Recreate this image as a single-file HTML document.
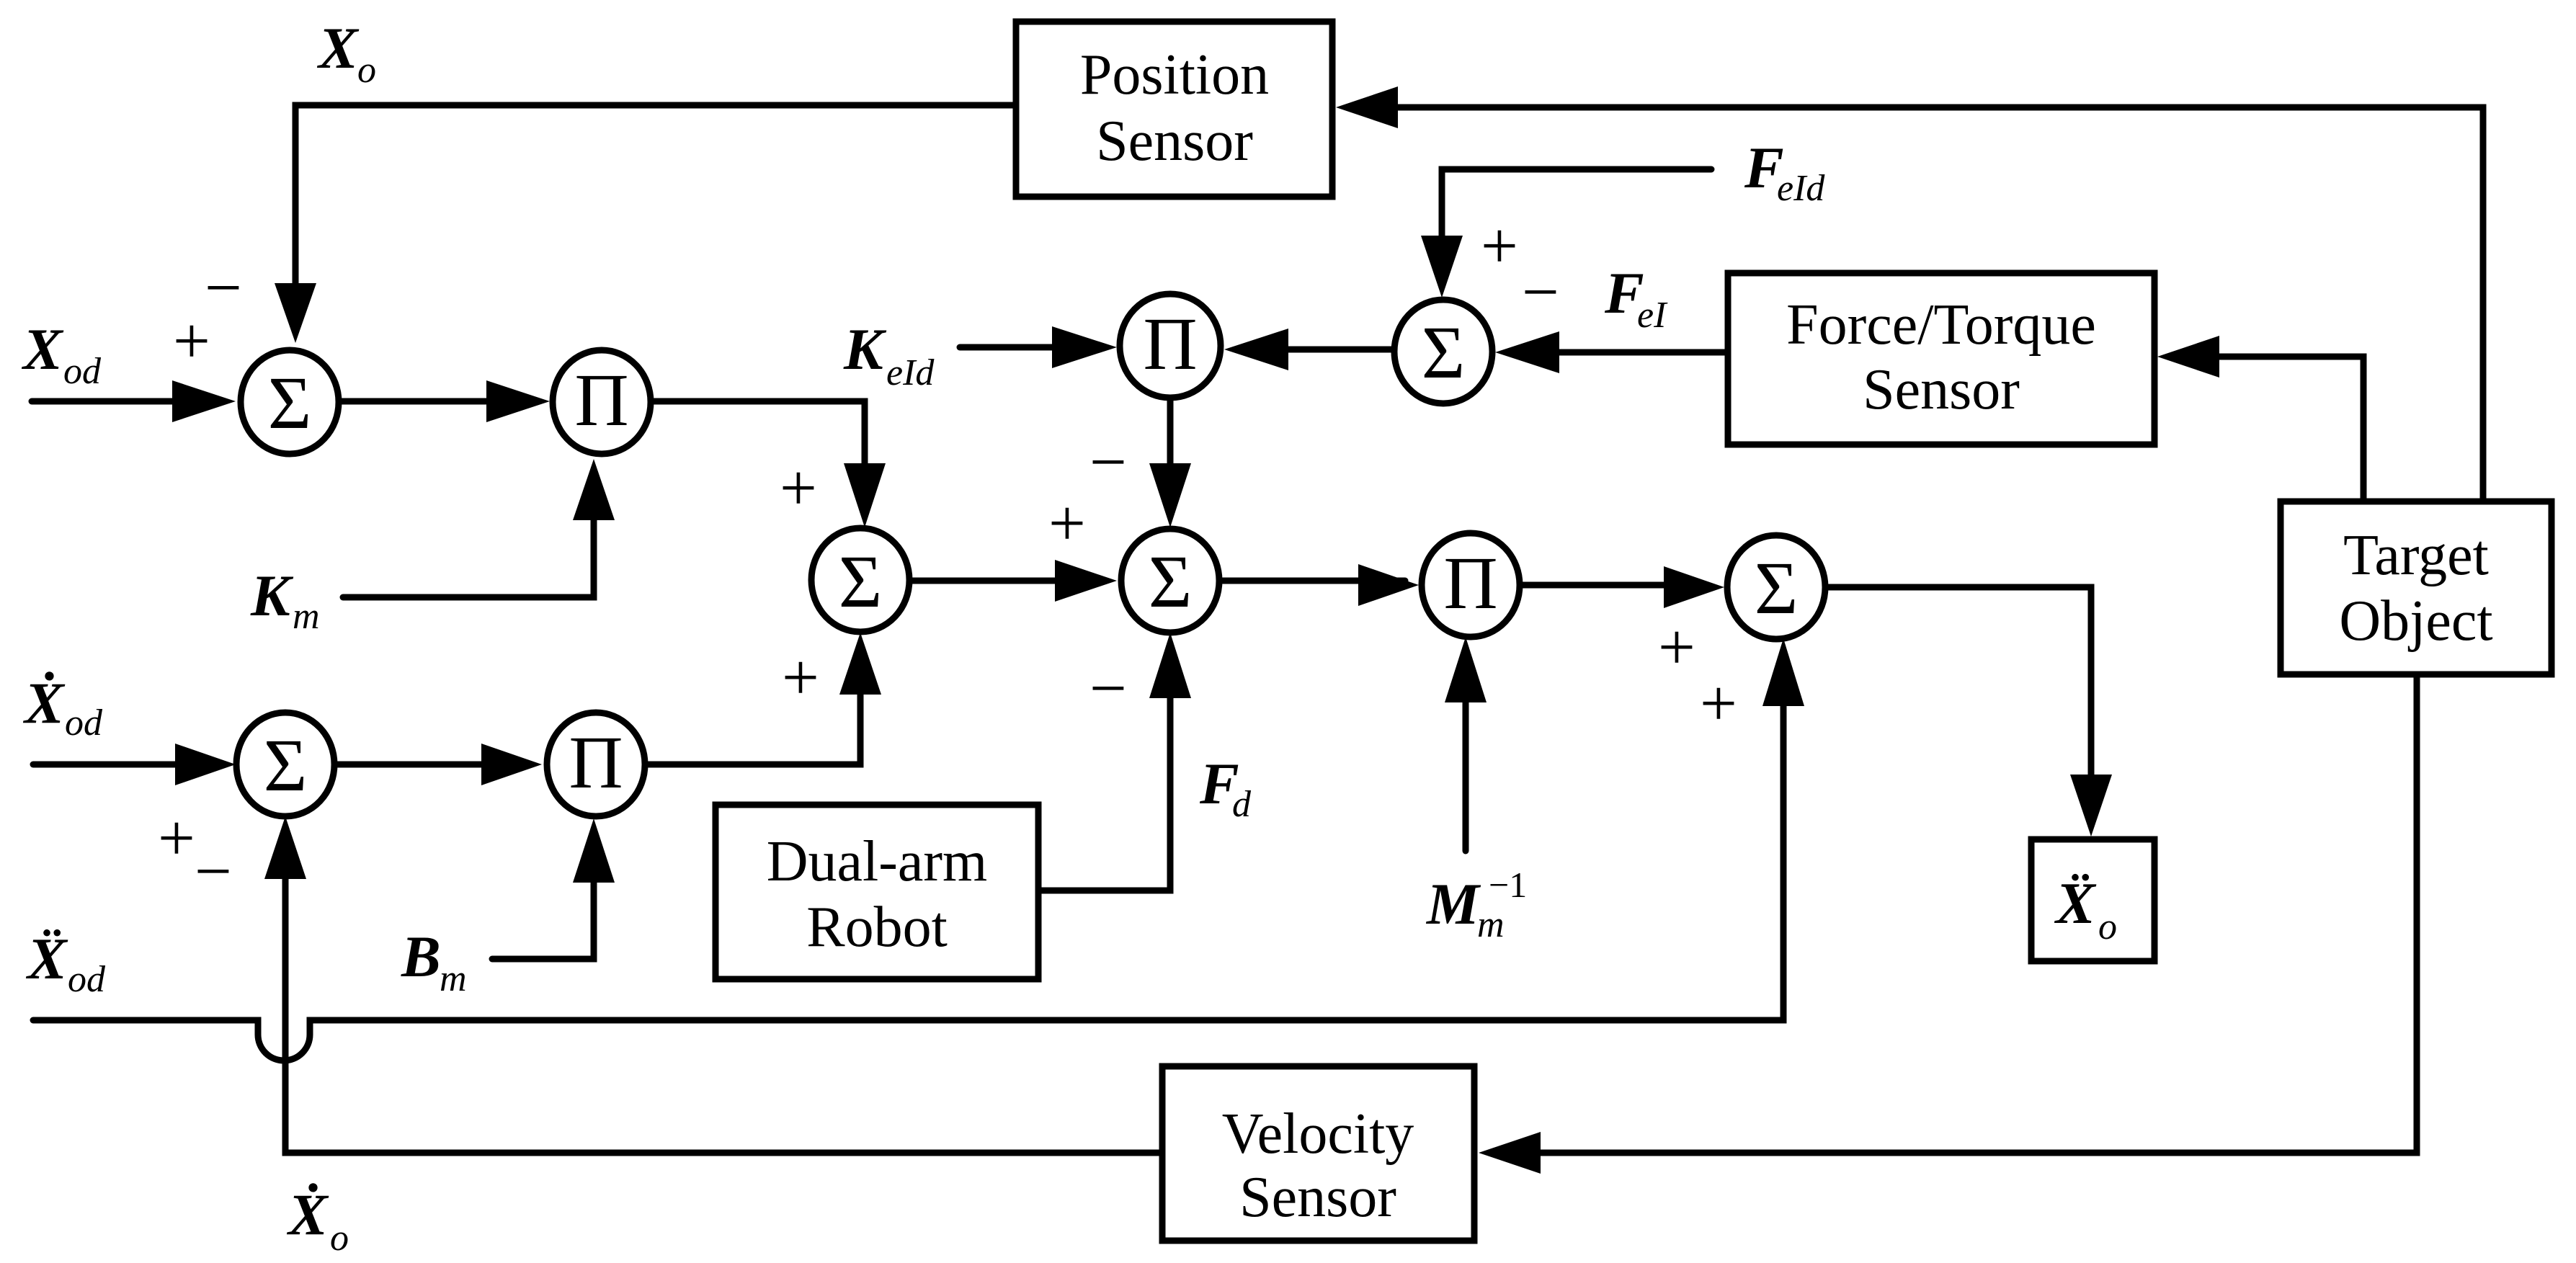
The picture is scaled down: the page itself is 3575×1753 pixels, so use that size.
<!DOCTYPE html>
<html><head><meta charset="utf-8"><style>
html,body{margin:0;padding:0;background:#fff;}
svg{display:block;font-family:"Liberation Serif","DejaVu Serif",serif;}
text{font-family:"Liberation Serif","DejaVu Serif",serif;fill:#000;}
.b{font-size:80px;}
.v{font-weight:bold;font-style:italic;font-size:82px;}
.s{font-style:italic;font-size:52px;}
.op{font-size:104px;}
.pm{font-size:92px;}
</style></head><body>
<svg width="3575" height="1753" viewBox="0 0 3575 1753" xmlns="http://www.w3.org/2000/svg" font-family="Liberation Serif, serif">
<g fill="none" stroke="#000" stroke-width="9" stroke-linecap="round" stroke-linejoin="miter">
<rect x="1410" y="30" width="439" height="243"/>
<rect x="2398" y="379" width="592" height="238"/>
<rect x="3165" y="696" width="376" height="240"/>
<rect x="993" y="1117" width="448" height="242"/>
<rect x="2819" y="1165" width="171" height="169"/>
<rect x="1613" y="1480" width="433" height="242"/>
<ellipse cx="402" cy="558" rx="68" ry="72"/>
<ellipse cx="835" cy="558" rx="68" ry="72"/>
<ellipse cx="1194" cy="805" rx="68" ry="72"/>
<ellipse cx="1624" cy="480" rx="70" ry="72"/>
<ellipse cx="1624" cy="806" rx="68" ry="72"/>
<ellipse cx="2003" cy="488" rx="68" ry="72"/>
<ellipse cx="2041" cy="812" rx="68" ry="72"/>
<ellipse cx="2465" cy="815" rx="68" ry="72"/>
<ellipse cx="396" cy="1061" rx="68" ry="72"/>
<ellipse cx="827" cy="1061" rx="68" ry="72"/>
<polyline points="1410,146 410,146 410,400"/>
<polyline points="44,557 250,557"/>
<polyline points="470,557 680,557"/>
<polyline points="903,557 1200,557 1200,650"/>
<polyline points="476,829 824,829 824,720"/>
<polyline points="1332,482 1460,482"/>
<polyline points="1624,552 1624,650"/>
<polyline points="1262,806 1470,806"/>
<polyline points="1692,806 1950,806"/>
<polyline points="2109,812 2310,812"/>
<polyline points="2533,815 2902,815 2902,1075"/>
<polyline points="3446,696 3446,149 1940,149"/>
<polyline points="2375,235 2001,235 2001,330"/>
<polyline points="2398,489 2164,489"/>
<polyline points="1935,485 1785,485"/>
<polyline points="3280,696 3280,495 3080,495"/>
<polyline points="2034,1181 2034,975"/>
<polyline points="3354,936 3354,1600 2138,1600"/>
<polyline points="46,1061 250,1061"/>
<polyline points="464,1061 668,1061"/>
<polyline points="895,1061 1194,1061 1194,964"/>
<polyline points="1441,1236 1624,1236 1624,969"/>
<polyline points="683,1331 824,1331 824,1225"/>
<polyline points="1613,1600 396,1600 396,1220"/>
<path d="M46,1416 L358,1416 L358,1436 A36,36 0 0 0 430,1436 L430,1416 L2475,1416 L2475,980"/>
</g>
<g fill="#000">
<polygon points="410,476 381,393 439,393"/>
<polygon points="327,557 239,528 239,586"/>
<polygon points="763,557 675,528 675,586"/>
<polygon points="1200,732 1171,643 1229,643"/>
<polygon points="824,637 795,722 853,722"/>
<polygon points="1550,482 1460,453 1460,511"/>
<polygon points="1624,732 1595,643 1653,643"/>
<polygon points="1550,806 1464,777 1464,835"/>
<polygon points="1969,812 1885,783 1885,841"/>
<polygon points="2393,815 2309,786 2309,844"/>
<polygon points="1854,149 1940,120 1940,178"/>
<polygon points="2001,413 1972,327 2030,327"/>
<polygon points="2075,489 2164,460 2164,518"/>
<polygon points="1699,485 1788,456 1788,514"/>
<polygon points="2994,495 3080,466 3080,524"/>
<polygon points="2034,884 2005,975 2063,975"/>
<polygon points="2475,886 2446,980 2504,980"/>
<polygon points="2902,1161 2873,1075 2931,1075"/>
<polygon points="2052,1600 2138,1571 2138,1629"/>
<polygon points="327,1061 243,1032 243,1090"/>
<polygon points="752,1061 668,1032 668,1090"/>
<polygon points="1194,878 1165,964 1223,964"/>
<polygon points="1624,878 1595,969 1653,969"/>
<polygon points="824,1136 795,1225 853,1225"/>
<polygon points="396,1133 367,1220 425,1220"/>
</g>
<g class="op" text-anchor="middle">
<text x="402" y="594">Σ</text>
<text x="835" y="590">Π</text>
<text x="1194" y="842">Σ</text>
<text x="1624" y="512">Π</text>
<text x="1624" y="842">Σ</text>
<text x="2003" y="524">Σ</text>
<text x="2041" y="844">Π</text>
<text x="2465" y="851">Σ</text>
<text x="396" y="1097">Σ</text>
<text x="827" y="1093">Π</text>
</g>
<g class="b" text-anchor="middle">
<text x="1630" y="130">Position</text>
<text x="1630" y="222">Sensor</text>
<text x="2694" y="477">Force/Torque</text>
<text x="2694" y="567">Sensor</text>
<text x="3353" y="797">Target</text>
<text x="3353" y="888">Object</text>
<text x="1217" y="1222">Dual-arm</text>
<text x="1217" y="1313">Robot</text>
<text x="1829" y="1600">Velocity</text>
<text x="1829" y="1688">Sensor</text>
</g>
<g class="pm" text-anchor="middle">
<text x="310" y="430">−</text>
<text x="266" y="504">+</text>
<text x="1108" y="708">+</text>
<text x="1538" y="672">−</text>
<text x="1481" y="757">+</text>
<text x="2081" y="372">+</text>
<text x="2138" y="436">−</text>
<text x="2327" y="929">+</text>
<text x="2385" y="1007">+</text>
<text x="1111" y="971">+</text>
<text x="1538" y="986">−</text>
<text x="245" y="1194">+</text>
<text x="296" y="1240">−</text>
</g>
<text x="442" y="94" class="v">X</text><text x="496" y="114" class="s">o</text>
<text x="32" y="512" class="v">X</text><text x="88" y="532" class="s">od</text>
<text x="1171" y="512" class="v">K</text><text x="1230" y="534" class="s">eId</text>
<text x="348" y="854" class="v">K</text><text x="406" y="872" class="s">m</text>
<text x="2421" y="260" class="v">F</text><text x="2466" y="278" class="s">eId</text>
<text x="2227" y="434" class="v">F</text><text x="2272" y="454" class="s">eI</text>
<text x="1665" y="1115" class="v">F</text><text x="1710" y="1133" class="s">d</text>
<text x="1980" y="1282" class="v">M</text><text x="2050" y="1300" class="s">m</text><text x="2066" y="1245" style="font-size:50px">−1</text>
<text x="557" y="1355" class="v">B</text><text x="610" y="1375" class="s">m</text>
<text x="34" y="1003" class="v">Ẋ</text><text x="90" y="1020" class="s">od</text>
<text x="38" y="1358" class="v">Ẍ</text><text x="94" y="1376" class="s">od</text>
<text x="400" y="1713" class="v">Ẋ</text><text x="458" y="1735" class="s">o</text>
<text x="2853" y="1281" class="v">Ẍ</text><text x="2912" y="1303" class="s">o</text>
</svg>
</body></html>
